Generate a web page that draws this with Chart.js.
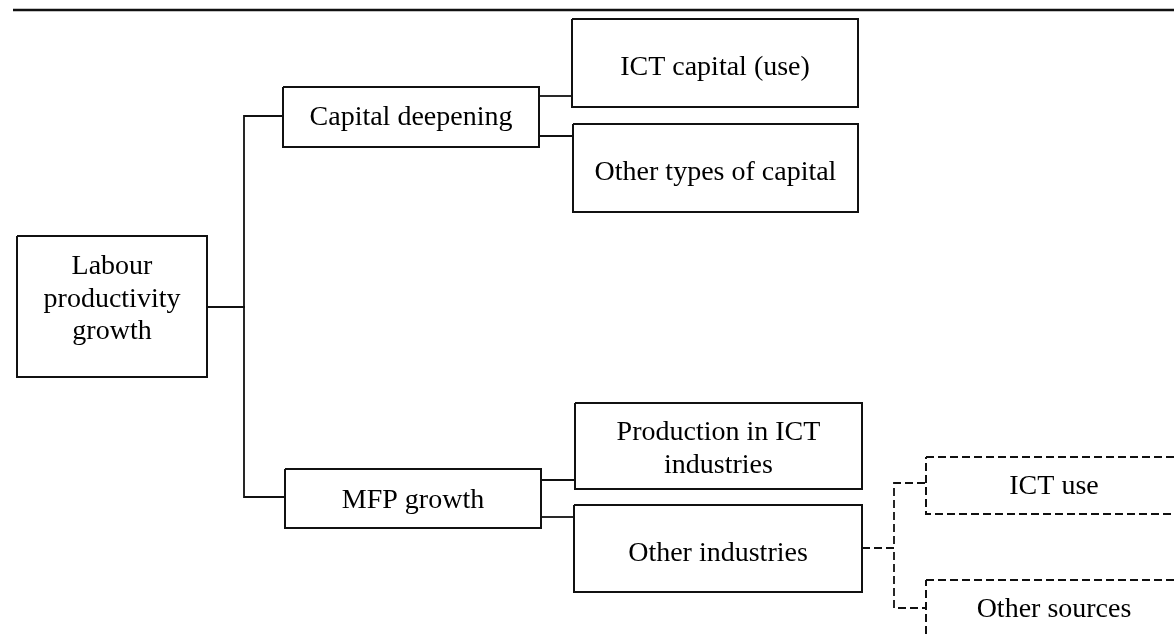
<!DOCTYPE html>
<html>
<head>
<meta charset="utf-8">
<title>Labour productivity growth decomposition</title>
<script src="https://cdn.jsdelivr.net/npm/chart.js@4/dist/chart.umd.min.js"></script>
<style>
  html, body { margin: 0; padding: 0; background: #fff; }
  #wrap { width: 1174px; height: 637px; position: relative; }
</style>
</head>
<body>
<div id="wrap"><canvas id="tree"></canvas></div>
<script>
// Tree content
const nodeLabels = [
    ['Labour', 'productivity', 'growth'],
    ['Capital deepening'],
    ['ICT capital (use)'],
    ['Other types of capital'],
    ['MFP growth'],
    ['Production in ICT', 'industries'],
    ['Other industries'],
    ['ICT use'],
    ['Other sources']
];
const nodeParent = [-1, 0, 1, 1, 0, 4, 4, 6, 6];
const nodeDashed = [false, false, false, false, false, false, false, true, true];

// Layout, in axis units (x: 0..1174, y: 0..637 top-down)
const layout = {
    left:     [17, 283, 572, 573, 285, 575, 574, 926, 926],
    right:    [207, 539, 858, 858, 541, 862, 862, 1182, 1182],
    top:      [236, 87, 19, 124, 469, 403, 505, 457, 580],
    bottom:   [377, 147, 107, 212, 528, 489, 592, 514, 645],
    baseline: [274, 125, 75, 180, 508, 440, 561, 494, 617],
    lineGap: 32.5,
    entryY:   [null, 116, 96, 136, 497, 480, 517, 483, 608],
    // elbow junction for parents that fan out through a vertical bar
    junctionX: { 0: 244, 6: 894 },
    exitY:     { 0: 307, 6: 548 }
};

const ink = '#111';
const dash = [8, 4];
const datasets = [];

// rule across the top of the page
datasets.push({
    data: [{ x: 13, y: 10 }, { x: 1174, y: 10 }],
    borderColor: ink, borderWidth: 2.5
});

// boxes
nodeLabels.forEach(function(label, i) {
    const l = layout.left[i], r = layout.right[i], t = layout.top[i], b = layout.bottom[i];
    datasets.push({
        data: [{ x: l, y: t }, { x: r, y: t }, { x: r, y: b }, { x: l, y: b }, { x: l, y: t }],
        borderColor: ink,
        borderWidth: 2,
        borderDash: nodeDashed[i] ? dash : []
    });
});

// connectors
nodeParent.forEach(function(p, i) {
    if (p < 0) return;
    const y = layout.entryY[i];
    let pts;
    if (layout.junctionX[p] !== undefined) {
        const jx = layout.junctionX[p], ey = layout.exitY[p];
        pts = [{ x: layout.right[p], y: ey }, { x: jx, y: ey }, { x: jx, y: y }, { x: layout.left[i], y: y }];
    } else {
        pts = [{ x: layout.right[p] + 1, y: y }, { x: layout.left[i], y: y }];
    }
    datasets.push({
        data: pts,
        borderColor: ink,
        borderWidth: 1.8,
        borderDash: nodeDashed[i] ? dash : []
    });
});

// box captions
const labelPlugin = {
    id: 'boxLabels',
    afterDatasetsDraw: function(chart) {
        const ctx = chart.ctx;
        const xs = chart.scales.x, ys = chart.scales.y;
        ctx.save();
        ctx.font = '28px "Liberation Serif", "Times New Roman", serif';
        ctx.fillStyle = '#000';
        ctx.textAlign = 'center';
        ctx.textBaseline = 'alphabetic';
        nodeLabels.forEach(function(lines, i) {
            const cx = xs.getPixelForValue((layout.left[i] + layout.right[i]) / 2);
            lines.forEach(function(txt, k) {
                ctx.fillText(txt, cx, ys.getPixelForValue(layout.baseline[i] + k * layout.lineGap));
            });
        });
        ctx.restore();
    }
};

new Chart(document.getElementById('tree'), {
    type: 'scatter',
    data: { datasets: datasets },
    options: {
        responsive: true,
        maintainAspectRatio: false,
        animation: false,
        showLine: true,
        layout: { padding: 0 },
        elements: {
            point: { radius: 0, hoverRadius: 0 },
            line: { tension: 0, fill: false, borderJoinStyle: 'miter', borderCapStyle: 'butt' }
        },
        plugins: {
            legend: { display: false },
            tooltip: { enabled: false }
        },
        scales: {
            x: { type: 'linear', min: 0, max: 1174, display: false },
            y: { type: 'linear', min: 0, max: 637, reverse: true, display: false }
        }
    },
    plugins: [labelPlugin]
});
</script>
</body>
</html>
